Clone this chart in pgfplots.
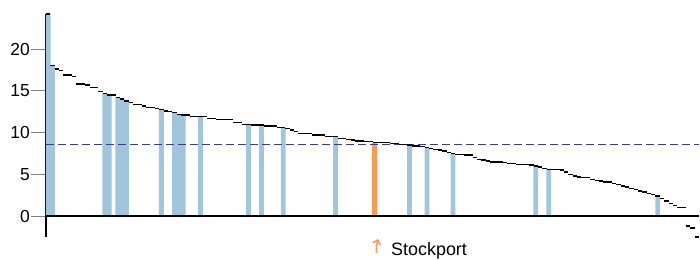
\documentclass[border=0pt]{standalone}
\usepackage{fontspec}
\setmainfont{Liberation Sans}
\usepackage{pgfplots}
\usepackage{pgfplotstable}
\pgfplotsset{compat=1.18}
\usetikzlibrary{arrows.meta}
\definecolor{barblue}{RGB}{161,197,220}
\definecolor{barorange}{RGB}{247,155,80}
\definecolor{avgblue}{RGB}{52,62,140}

\pgfplotstableread{
x y
-0.5 24.2
0 24.2
1 18.0
2 17.6
3 17.4
4 16.9
5 16.9
6 16.7
7 15.8
8 15.8
9 15.7
10 15.4
11 15.4
12 14.9
13 14.7
14 14.5
15 14.5
16 14.2
17 14.0
18 13.8
19 13.6
20 13.4
21 13.4
22 13.2
23 13.0
24 13.0
25 12.9
26 12.8
27 12.6
28 12.5
29 12.4
30 12.2
31 12.1
32 12.1
33 11.9
34 11.9
35 11.9
36 11.9
37 11.7
38 11.7
39 11.6
40 11.6
41 11.6
42 11.6
43 11.2
44 11.2
45 11.0
46 11.0
47 10.9
48 10.9
49 10.9
50 10.8
51 10.8
52 10.8
53 10.6
54 10.6
55 10.5
56 10.3
57 10.1
58 9.9
59 9.9
60 9.9
61 9.7
62 9.7
63 9.7
64 9.5
65 9.5
66 9.5
67 9.3
68 9.3
69 9.2
70 9.1
71 9.0
72 9.0
73 8.9
74 8.9
75 8.8
76 8.8
77 8.8
78 8.8
79 8.7
80 8.7
81 8.6
82 8.6
83 8.5
84 8.4
85 8.4
86 8.3
87 8.2
88 8.1
89 8.0
90 7.9
91 7.8
92 7.6
93 7.5
94 7.4
95 7.4
96 7.3
97 7.3
98 7.0
99 6.8
100 6.7
101 6.6
102 6.5
103 6.5
104 6.5
105 6.4
106 6.3
107 6.3
108 6.2
109 6.2
110 6.2
111 6.1
112 6.0
113 5.9
114 5.7
115 5.6
116 5.6
117 5.6
118 5.5
119 5.3
120 5.0
121 4.8
122 4.7
123 4.6
124 4.6
125 4.4
126 4.3
127 4.2
128 4.1
129 4.1
130 3.9
131 3.8
132 3.6
133 3.5
134 3.3
135 3.2
136 3.0
137 2.9
138 2.7
139 2.6
140 2.4
141 2.1
142 1.8
143 1.5
144 1.3
145 1.0
146 1.0
147 -1.2
148 -1.4
149 -2.5
149.5 -2.5
}\vals

\pgfplotstableread{
x y
0 24.2
1 18.0
13 14.7
14 14.5
16 14.2
17 14.0
18 13.8
26 12.8
29 12.4
30 12.2
31 12.1
35 11.9
46 11.0
49 10.9
54 10.6
66 9.5
83 8.5
87 8.2
93 7.5
112 6.0
115 5.6
140 2.4
}\blue

\begin{document}
\begin{tikzpicture}
\useasboundingbox (0,0) rectangle (700bp,260bp);
\begin{axis}[
  at={(46bp,23bp)}, anchor=south west,
  scale only axis, width=653bp, height=223bp,
  xmin=-0.5, xmax=149.5, ymin=-2.5, ymax=24.2,
  axis x line=none, axis y line*=left,
  y axis line style={line width=2.4bp, black},
  xtick=\empty, ytick={0,5,10,15,20},
  tick align=outside, major tick length=15bp,
  ytick style={gray, line width=0.9bp},
  /pgf/number format/assume math mode=true,
  yticklabel style={font=\fontsize{17.5}{20}\selectfont, text=black, inner xsep=1bp},
  clip=false,
]
\addplot[ybar, bar width=1.1, bar shift=0pt, fill=barblue, draw=none] table[x=x,y=y] {\blue};
\addplot[ybar, bar width=1.1, bar shift=0pt, fill=barorange, draw=none] coordinates {(75,8.8)};
\addplot[avgblue, line width=1.4bp, dash pattern=on 7.5bp off 4.5bp] coordinates {(-0.5,8.6) (149.5,8.6)};
\addplot[black, line width=2.2bp] coordinates {(-0.5,0) (149.5,0)};
\addplot[black, line width=1.4bp, jump mark mid, mark=none] table[x=x,y=y] {\vals};
\end{axis}
\draw[barorange, line width=1.5bp, -{Straight Barb[length=4bp,width=8bp]}] (376.5bp,7bp) to[bend left=10] (378bp,21bp);
\node[anchor=base west, inner sep=0pt, font=\fontsize{18}{20}\selectfont] at (391bp,5bp) {Stockport};
\end{tikzpicture}
\end{document}
